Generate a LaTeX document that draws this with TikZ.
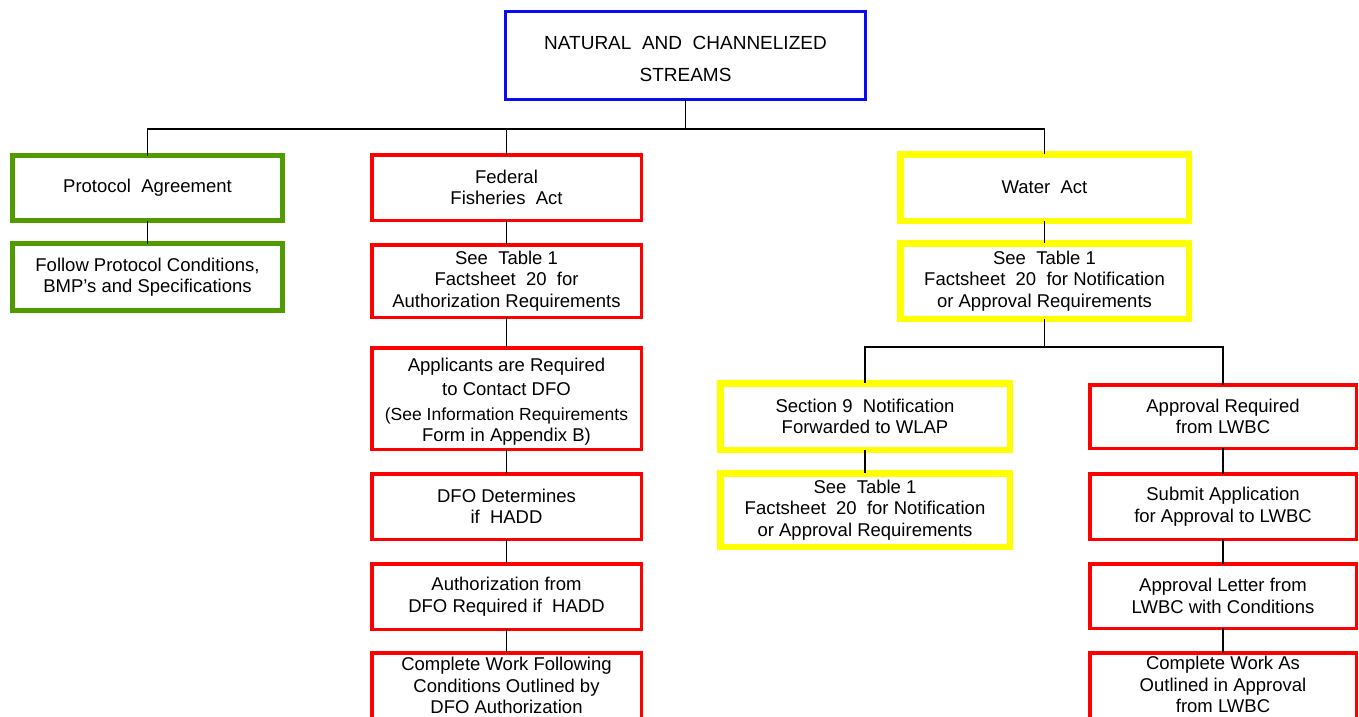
\documentclass[tikz,border=0pt]{standalone}
\usepackage{fontspec}
\setmainfont{Liberation Sans}
\newcommand\fsn{\fontsize{18.5}{21.5}\selectfont}
\newcommand\fsh{\fontsize{19}{32}\selectfont}
\newcommand\fss{\fontsize{17.5}{21}\selectfont}
\definecolor{bxblue}{RGB}{10,10,245}
\definecolor{bxgreen}{RGB}{80,155,0}
\definecolor{bxred}{RGB}{255,0,0}
\definecolor{bxyellow}{RGB}{255,255,0}
\begin{document}
\begin{tikzpicture}[x=1pt,y=-1pt,
  box/.style={draw, fill=white, inner sep=0pt, outer sep=0pt, align=center, font=\fsn},
  bluebox/.style={box, draw=bxblue, line width=3pt, font=\fsh},
  greenbox/.style={box, draw=bxgreen, line width=5pt},
  redbox/.style={box, draw=bxred, line width=3.5pt},
  yelbox/.style={box, draw=bxyellow, line width=6.5pt},
  txt/.style={inner sep=0pt, align=center, font=\fsn},
  conn/.style={draw=black, line width=1.4pt}]
\useasboundingbox (0,0) rectangle (1359,716);
\clip (0,0) rectangle (1359,716);
\fill[white] (0,0) rectangle (1359,716);

% top
\node[bluebox, minimum width=360, minimum height=88] (top) at (685.5,55) {};
\node[txt, font=\fsh] (toptxt) at (685.5,59) {NATURAL~ AND~ CHANNELIZED\\STREAMS};

% left column
\node[greenbox, minimum width=270, minimum height=65] (proto) at (147.5,188) {Protocol~ Agreement};
\node[greenbox, minimum width=270, minimum height=67] (follow) at (147.5,277) {Follow Protocol Conditions,\\BMP's and Specifications};

% middle column
\node[redbox, minimum width=269.5, minimum height=65.5] (fed) at (506.5,187.5) {Federal\\Fisheries~ Act};
\node[redbox, minimum width=269.5, minimum height=72.5] (fedsee) at (506.5,281) {See~ Table 1\\Factsheet~ 20~ for\\Authorization Requirements};
\node[redbox, minimum width=269.5, minimum height=101.5] (appl) at (506.5,398.5) {};
\node[txt] (appltxt) at (506.5,401.5) {Applicants are Required\\[3pt]to Contact DFO\\[3pt]\fss(See Information Requirements\\Form in Appendix B)};
\node[redbox, minimum width=269.5, minimum height=65.5] (dfo) at (506.5,506.5) {DFO Determines\\if~ HADD};
\node[redbox, minimum width=269.5, minimum height=65.5] (auth) at (506.5,596.5) {Authorization from\\DFO Required if~ HADD};
\node[redbox, minimum width=269.5, minimum height=100, anchor=north] (cfo) at (506.5,652.75) {};
\node[txt] (cfotxt) at (506.5,685.5) {Complete Work Following\\Conditions Outlined by\\DFO Authorization};

% right column
\node[yelbox, minimum width=288.5, minimum height=66.5] (water) at (1044.5,187.5) {Water~ Act};
\node[yelbox, minimum width=288.5, minimum height=75.5] (watersee) at (1044.5,281) {See~ Table 1\\Factsheet~ 20~ for Notification\\or Approval Requirements};
\node[yelbox, minimum width=289.5, minimum height=66.5] (sec) at (865,416.5) {Section 9~ Notification\\Forwarded to WLAP};
\node[yelbox, minimum width=289.5, minimum height=73.5] (secsee) at (865,510) {See~ Table 1\\Factsheet~ 20~ for Notification\\or Approval Requirements};

\node[redbox, minimum width=266.5, minimum height=63.5] (appr) at (1223,416.5) {Approval Required\\from LWBC};
\node[redbox, minimum width=266.5, minimum height=65.5] (submit) at (1223,506.5) {Submit Application\\for Approval to LWBC};
\node[redbox, minimum width=266.5, minimum height=64.5] (letter) at (1223,596) {Approval Letter from\\LWBC with Conditions};
\node[redbox, minimum width=266.5, minimum height=100, anchor=north] (cwa) at (1223,652.75) {};
\node[txt] (cwatxt) at (1223,684.5) {Complete Work As\\Outlined in Approval\\from LWBC};

% connectors
\coordinate (bus) at (685.5,129);
\draw[conn] (top.south) -- (bus);
\draw[conn] (proto.north) |- (bus) -| (water.north);
\draw[conn] (fed.north) -- (fed.north |- bus);
\draw[conn] (proto.south) -- (follow.north);
\draw[conn] (fed.south) -- (fedsee.north);
\draw[conn] (fedsee.south) -- (appl.north);
\draw[conn] (appl.south) -- (dfo.north);
\draw[conn] (dfo.south) -- (auth.north);
\draw[conn] (auth.south) -- (cfo.north);
\draw[conn] (water.south) -- (watersee.north);
\coordinate (bus2) at (1044.5,347);
\draw[conn] (watersee.south) -- (bus2);
\draw[conn] (sec.north) |- (bus2) -| (appr.north);
\draw[conn] (sec.south) -- (secsee.north);
\draw[conn] (appr.south) -- (submit.north);
\draw[conn] (submit.south) -- (letter.north);
\draw[conn] (letter.south) -- (cwa.north);
\end{tikzpicture}
\end{document}
